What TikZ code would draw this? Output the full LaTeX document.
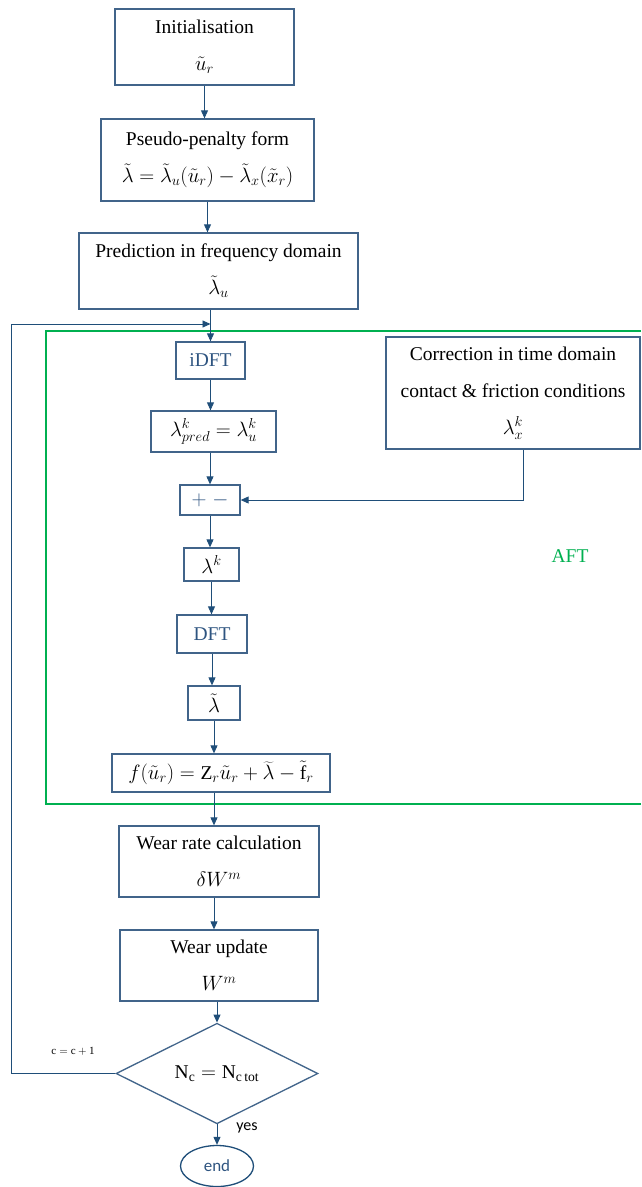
\documentclass[tikz,border=0pt]{standalone}
\usepackage{fontspec}
\setmainfont{Liberation Serif}
\newfontfamily\labelfont{Carlito}
\usetikzlibrary{shapes.geometric,arrows.meta}
\definecolor{boxblue}{RGB}{65,100,138}
\definecolor{arrowblue}{RGB}{31,78,121}
\definecolor{textblue}{RGB}{46,84,128}
\definecolor{aftgreen}{RGB}{0,176,80}

\begin{document}
\begin{tikzpicture}[
          x=1pt, y=-1pt,
          every node/.style={font=\fontsize{19.5}{37}\selectfont},
          block/.style={
            rectangle,
            draw=boxblue,
            line width=1.3pt,
            inner sep=0pt,
            align=center,
          },
          arr/.style={
            -{Triangle[length=8pt,width=7pt]},
            draw=arrowblue,
            line width=0.9pt,
          },
        ]
          \useasboundingbox (0,0) rectangle (641,1187);

          \draw[aftgreen, line width=1.6pt] (641,331) -- (46,331) -- (46,804) -- (641,804);

          \node[block, minimum width=179pt, minimum height=76pt] (init) at (204.5,47) {Initialisation\\$\tilde{u}_r$};
          \node[block, minimum width=213pt, minimum height=82pt] (pen) at (207.5,160) {Pseudo-penalty form\\$\tilde{\lambda} = \tilde{\lambda}_u(\tilde{u}_r) - \tilde{\lambda}_x(\tilde{x}_r)$};
          \node[block, minimum width=279pt, minimum height=76pt] (pred) at (218.5,271) {Prediction in frequency domain\\$\tilde{\lambda}_u$};
          \node[block, text=textblue, minimum width=69pt, minimum height=37pt] (idft) at (210.5,360.5) {iDFT};
          \node[block, minimum width=125pt, minimum height=41pt] (lpred) at (213.5,431.5) {$\lambda^k_{pred} = \lambda^k_u$};
          \node[block, text=textblue, minimum width=60pt, minimum height=30pt] (pm) at (210,500) {$+\;-$};
          \node[block, minimum width=254pt, minimum height=112pt] (corr) at (513,393) {Correction in time domain\\contact \& friction conditions\\$\lambda^k_x$};
          \node[block, minimum width=55pt, minimum height=33pt] (lk) at (211.5,564.5) {$\lambda^k$};
          \node[block, text=textblue, minimum width=70pt, minimum height=38pt] (dft) at (212,634) {DFT};
          \node[block, minimum width=52pt, minimum height=34pt] (ltil) at (214,703) {$\tilde{\lambda}$};
          \node[block, minimum width=218pt, minimum height=38pt] (fbox) at (221,773) {$f(\tilde{u}_r) = \mathrm{Z}_r\tilde{u}_r + \widetilde{\lambda} - \tilde{\mathrm{f}}_r$};
          \node[block, minimum width=200pt, minimum height=71pt] (rate) at (219,861.5) {Wear rate calculation\\$\delta W^m$};
          \node[block, minimum width=198pt, minimum height=71pt] (upd) at (219,965.5) {Wear update\\$W^m$};
          \node[diamond, draw=boxblue, line width=1.3pt, inner sep=0pt, minimum width=202pt, minimum height=75pt] (dia) at (217,1073.5) {$\mathrm{N_c = N_{c\,tot}}$};
          \node[ellipse, draw=arrowblue, line width=1.3pt, inner sep=0pt, minimum width=73pt, minimum height=41pt, font=\labelfont\fontsize{17}{20}\selectfont, text=textblue] (end) at (217,1166) {end};

          \node[text=aftgreen] (aft) at (570,556) {AFT};
          \node[font=\fontsize{11}{13}\selectfont] (count) at (73,1051) {$\mathrm{c = c + 1}$};
          \node[font=\labelfont\fontsize{16}{19}\selectfont] (yes) at (247,1128) {yes};

          \coordinate (back) at (11,324);

          \draw
              (init.south) edge [arr] (init.south |- pen.north)
              (pen.south) edge [arr] (pen.south |- pred.north)
              (pred.south -| idft) edge [arr] (idft.north)
              (idft.south) edge [arr] (idft.south |- lpred.north)
              (lpred.south -| pm) edge [arr] (pm.north)
              (pm.south) edge [arr] (pm.south |- lk.north)
              (lk.south) edge [arr] (lk.south |- dft.north)
              (dft.south) edge [arr] (dft.south |- ltil.north)
              (ltil.south) edge [arr] (ltil.south |- fbox.north)
              (fbox.south -| ltil) edge [arr] (ltil |- rate.north)
              (rate.south -| ltil) edge [arr] (ltil |- upd.north)
              (upd.south -| dia) edge [arr] (dia.north)
              (dia.south) edge [arr] (end.north);

          \draw[arr] ([xshift=10pt]corr.south) |- (pm.east);
          \draw[arr] (dia.west) -| (back) -- (back -| idft);
        \end{tikzpicture}
\end{document}
